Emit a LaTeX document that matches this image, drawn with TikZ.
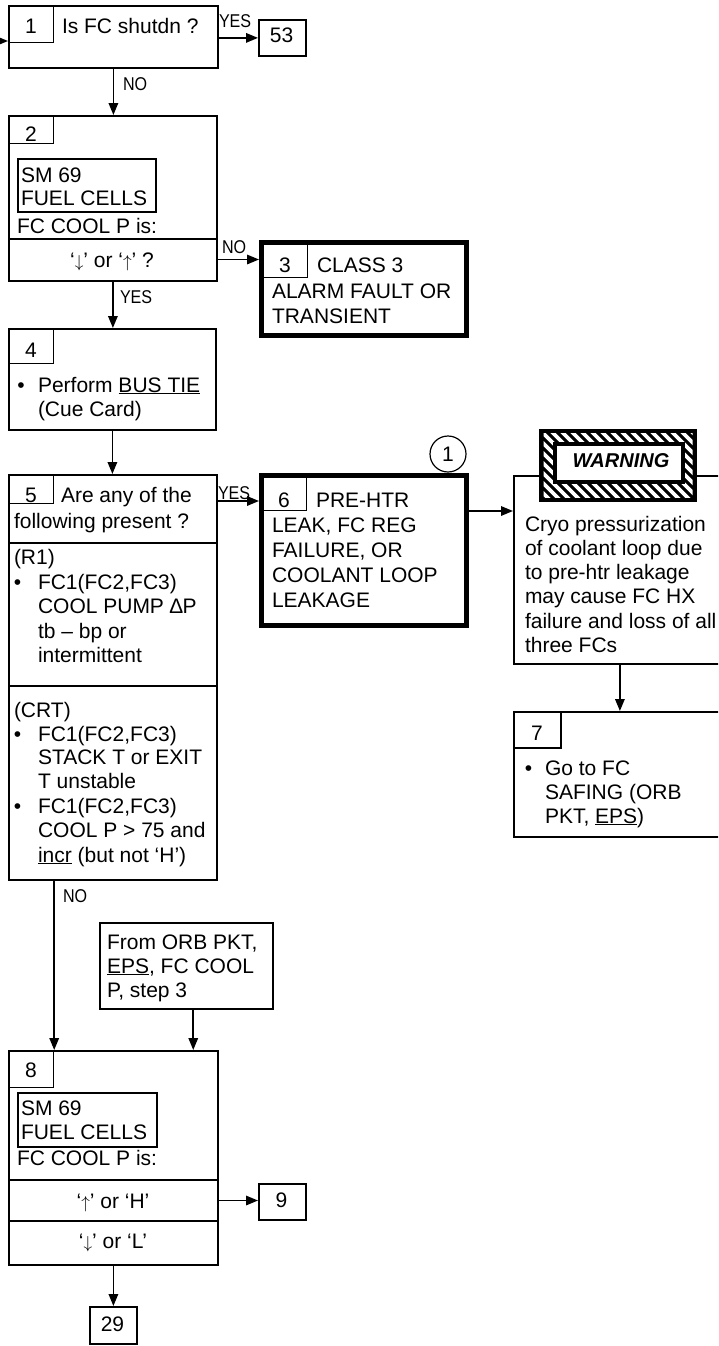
\documentclass[tikz,border=0pt]{standalone}
\usepackage{fontspec}
\setmainfont{Liberation Sans}
\usepackage{graphicx}
\usetikzlibrary{arrows.meta,calc}
\newcommand\fs{\fontsize{21}{24.5}\selectfont}
\newcommand\ml[2][24.5]{\fontsize{21}{#1}\selectfont\begin{tabular}[t]{@{}l@{}}#2\end{tabular}}
\newcommand\lb[1]{\fontsize{18.5}{20}\selectfont\scalebox{0.87}[1]{#1}}
\newcommand\dn{{\fontsize{19}{20}\selectfont$\downarrow$}}
\newcommand\up{{\fontsize{19}{20}\selectfont$\uparrow$}}
\begin{document}
\begin{tikzpicture}[x=1pt,y=-1pt,
 box/.style={draw, line width=1.8pt, inner sep=0, anchor=north west},
 tk/.style={draw, line width=5pt, inner sep=0, anchor=north west},
 tab/.style={draw, line width=1.2pt, inner sep=0, anchor=north west},
 smbox/.style={draw, line width=1.5pt, inner sep=0, anchor=north west},
 area/.style={inner sep=0, outer sep=0, anchor=north west},
 txt/.style={inner sep=0, outer sep=0, anchor=base west, font=\fs},
 ctr/.style={inner sep=0, outer sep=0, anchor=base, font=\fs},
 lbl/.style={inner sep=0, outer sep=0, anchor=base west},
 divider/.style={line width=1.5pt},
 arr/.style={line width=1.6pt, -{Triangle[length=12pt,width=9.5pt]}},
]
\useasboundingbox (0,0) rectangle (718,1346);
\clip (0,0) rectangle (718,1346);

% ---------- Box 1
\node[box, minimum width=209, minimum height=62] (b1) at (8,5) {};
\node[tab, minimum width=45, minimum height=37] (t1) at (8,5) {};
\node[ctr] (n1) at (31,34) {1};
\node[txt] (q1) at (62,34) {Is FC shutdn ?};
\node[box, minimum width=47, minimum height=36] (b53) at (258,19) {};
\node[ctr] (n53) at (281.5,43) {53};

% ---------- Box 2
\node[box, minimum width=208, minimum height=165] (b2) at (8,115) {};
\node[tab, minimum width=45, minimum height=28] (t2) at (8,115) {};
\node[ctr] (n2) at (31,141) {2};
\node[smbox, minimum width=138, minimum height=53] (sm2) at (17,158) {};
\node[txt] (sm2t) at (21,182) {\ml[23.5]{SM 69\\FUEL CELLS}};
\node[txt] (q2) at (17,233) {FC COOL P is:};
\node[area, minimum width=208, minimum height=41] (b2row) at (8,239) {};
\draw[divider] (b2row.north west) -- (b2row.north east);
\node[ctr] (q2b) at (112,267) {‘\dn’ or ‘\up’ ?};

% ---------- Box 3
\node[tk, minimum width=205, minimum height=93] (b3) at (259,240) {};
\node[tab, minimum width=47, minimum height=36] (t3) at (259.5,240.5) {};
\node[ctr] (n3) at (285,272) {3};
\node[txt] (q3a) at (317,272) {CLASS 3};
\node[txt] (q3b) at (272,298) {\ml[25]{ALARM FAULT OR\\TRANSIENT}};

% ---------- Box 4
\node[box, minimum width=207, minimum height=101] (b4) at (8,328) {};
\node[tab, minimum width=45, minimum height=35] (t4) at (8,328) {};
\node[ctr] (n4) at (31,357) {4};
\node[ctr] (bu4) at (21,392) {•};
\node[txt] (q4) at (38,392) {\ml[24]{Perform \underline{BUS TIE}\\(Cue Card)}};

% ---------- Box 5
\node[box, minimum width=208, minimum height=405] (b5) at (8,474) {};
\node[tab, minimum width=45, minimum height=29] (t5) at (8,474) {};
\node[ctr] (n5) at (31,502) {5};
\node[txt] (q5a) at (61,502) {Are any of the};
\node[txt] (q5b) at (14,528) {following present ?};
\node[area, minimum width=208, minimum height=143] (r1) at (8,543) {};
\draw[divider] (r1.north west) -- (r1.north east);
\node[area, minimum width=208, minimum height=193] (crt) at (8,686) {};
\draw[divider] (crt.north west) -- (crt.north east);
\node[txt] (r1h) at (14,564.5) {(R1)};
\node[ctr] (bu5a) at (17.5,589) {•};
\node[txt] (r1t) at (38,589) {\ml[24.5]{FC1(FC2,FC3)\\COOL PUMP ∆P\\tb – bp or\\intermittent}};
\node[txt] (crth) at (14,717) {(CRT)};
\node[ctr] (bu5b) at (17.5,741) {•};
\node[txt] (crt1) at (38,741) {\ml[23.8]{FC1(FC2,FC3)\\STACK T or EXIT\\T unstable}};
\node[ctr] (bu5c) at (17.5,813) {•};
\node[txt] (crt2) at (38,813) {\ml[24.5]{FC1(FC2,FC3)\\COOL P > 75 and\\\underline{incr} (but not ‘H’)}};

% ---------- Box 6
\node[tk, minimum width=205, minimum height=150] (b6) at (259,473) {};
\node[tab, minimum width=46, minimum height=36] (t6) at (259.5,473.5) {};
\node[ctr] (n6) at (284,507) {6};
\node[txt] (q6a) at (316,507) {PRE-HTR};
\node[txt] (q6b) at (272,532) {\ml[25.2]{LEAK, FC REG\\FAILURE, OR\\COOLANT LOOP\\LEAKAGE}};
\node[circle, draw, line width=1.2pt, minimum size=36, inner sep=0, font=\fs] (c1) at (448,454) {1};

% ---------- Warning box
\node[box, minimum width=212, minimum height=188] (wb) at (513,475) {};
\node[txt] (wt) at (525,531) {\ml[24.3]{Cryo pressurization\\of coolant loop due\\to pre-htr leakage\\may cause FC HX\\failure and loss of all\\three FCs}};
\node[fill=black, inner sep=0, outer sep=0, minimum width=158, minimum height=73, anchor=north west] (wbo) at (539,429) {};
\begin{scope}
\clip (543.5,433.5) rectangle (692.5,497.5);
\foreach \i in {0,...,32} \draw[white, line width=3.6pt] ({470+\i*10},420) -- ({570+\i*10},520);
\end{scope}
\node[draw, fill=white, line width=3.5pt, inner sep=0, minimum width=128, minimum height=38, anchor=north west] (wban) at (553,442) {};
\node[ctr, font=\fontsize{20}{22}\selectfont\bfseries\itshape] (wtx) at (621,467) {WARNING};

% ---------- Box 7
\node[box, minimum width=212, minimum height=125] (b7) at (513,711) {};
\node[tab, line width=2pt, minimum width=47, minimum height=36] (t7) at (513,711) {};
\node[ctr] (n7) at (537,740) {7};
\node[ctr] (bu7) at (528.5,775) {•};
\node[txt] (q7) at (545,775) {\ml[24]{Go to FC\\SAFING (ORB\\PKT, \underline{EPS})}};

% ---------- From box
\node[box, line width=1.5pt, minimum width=173, minimum height=86] (fr) at (99,922) {};
\node[txt] (frt) at (107,949) {\ml[24]{From ORB PKT,\\\underline{EPS}, FC COOL\\P, step 3}};

% ---------- Box 8
\node[box, minimum width=209, minimum height=214] (b8) at (8,1050) {};
\node[tab, minimum width=45, minimum height=37] (t8) at (8,1050) {};
\node[ctr] (n8) at (31,1077) {8};
\node[smbox, minimum width=139, minimum height=54] (sm8) at (17,1092) {};
\node[txt] (sm8t) at (21,1115) {\ml[24]{SM 69\\FUEL CELLS}};
\node[txt] (q8) at (17,1165) {FC COOL P is:};
\node[area, minimum width=209, minimum height=41] (b8r1) at (8,1180) {};
\node[area, minimum width=209, minimum height=43] (b8r2) at (8,1221) {};
\draw[divider] (b8r1.north west) -- (b8r1.north east);
\draw[divider] (b8r2.north west) -- (b8r2.north east);
\node[ctr] (q8a) at (113,1208) {‘\up’ or ‘H’};
\node[ctr] (q8b) at (113,1248) {‘\dn’ or ‘L’};
\node[box, minimum width=47, minimum height=36] (b9) at (258,1183) {};
\node[ctr] (n9) at (281.5,1207) {9};
\node[box, minimum width=47, minimum height=37] (b29) at (89,1306) {};
\node[ctr] (n29) at (112.5,1331) {29};

% ---------- Connectors
\coordinate (in1) at (-30,41);
\draw[arr] (in1) -- (in1 -| b1.west);
\draw[arr] (b1.east |- b53.west) -- (b53.west);
\draw[arr] (b1.south) -- (b1.south |- b2.north);
\draw[arr] (b2row.east) -- (b2row.east -| b3.west);
\draw[arr] (b2.south) -- (b2.south |- b4.north);
\draw[arr] (b4.south) -- (b4.south |- b5.north);
\coordinate (p5) at ($(b5.north east)+(0,27)$);
\draw[arr] (p5) -- (p5 -| b6.west);
\coordinate (p6) at ($(b6.north east)+(0,38)$);
\draw[arr] (p6) -- (p6 -| wb.west);
\draw[arr] (wb.south) -- (wb.south |- b7.north);
\draw[arr] (b5.south -| t5.east) -- (b8.north -| t5.east);
\coordinate (pf) at ($(fr.south)+(7,0)$);
\draw[arr] (pf) -- (pf |- b8.north);
\draw[arr] (b8r1.east) -- (b8r1.east -| b9.west);
\draw[arr] (b8.south) -- (b8.south |- b29.north);

% ---------- Labels
\node[lbl] (l1) at (219,28) {\lb{YES}};
\node[lbl] (l2) at (123,90) {\lb{NO}};
\node[lbl] (l3) at (222,253) {\lb{NO}};
\node[lbl] (l4) at (120,303) {\lb{YES}};
\node[lbl] (l5) at (218,499) {\lb{YES}};
\node[lbl] (l6) at (63,902) {\lb{NO}};
\end{tikzpicture}
\end{document}
